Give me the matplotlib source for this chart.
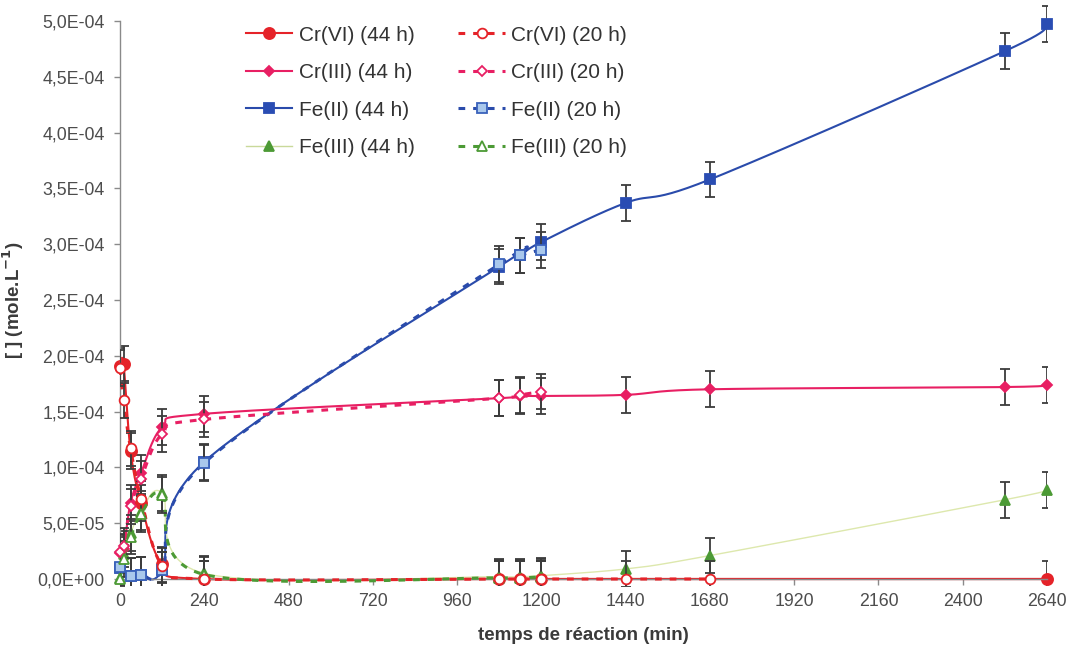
import numpy as np
import matplotlib
matplotlib.use('Agg')
import matplotlib.pyplot as plt
from matplotlib.lines import Line2D
from matplotlib.patches import Rectangle
from matplotlib.ticker import FuncFormatter, MultipleLocator

plt.rcParams['font.family'] = ['Liberation Sans', 'DejaVu Sans']

# ---------------- data ----------------
t_cr6_44 = [0, 10, 30, 60, 120, 240, 1080, 1140, 1200, 2640]
cr6_44 = [1.91e-4, 1.93e-4, 1.15e-4, 6.8e-5, 1.3e-5, 0, 0, 0, 0, 0]
t_cr6_20 = [0, 10, 30, 60, 120, 240, 1080, 1140, 1200, 1440, 1680]
cr6_20 = [1.89e-4, 1.60e-4, 1.17e-4, 7.2e-5, 1.2e-5, 0, 0, 0, 0, 0, 0]

t_44 = [0, 10, 30, 60, 120, 240, 1080, 1140, 1200, 1440, 1680, 2520, 2640]
t_20 = [0, 10, 30, 60, 120, 240, 1080, 1140, 1200]
cr3_44 = [2.3e-5, 2.7e-5, 6.8e-5, 9.5e-5, 1.36e-4, 1.48e-4, 1.62e-4, 1.64e-4,
          1.64e-4, 1.65e-4, 1.70e-4, 1.72e-4, 1.74e-4]
cr3_20 = [2.4e-5, 3.0e-5, 6.5e-5, 9.0e-5, 1.30e-4, 1.43e-4, 1.62e-4, 1.65e-4, 1.68e-4]

t_fe2_44 = [0, 30, 60, 120, 240, 1080, 1140, 1200, 1440, 1680, 2520, 2640]
fe2_44 = [1.0e-5, 3e-6, 4e-6, 8e-6, 1.05e-4, 2.80e-4, 2.90e-4, 3.02e-4,
          3.37e-4, 3.58e-4, 4.73e-4, 4.97e-4]
t_fe2_20 = [0, 30, 60, 120, 240, 1080, 1140, 1200]
fe2_20 = [1.1e-5, 3e-6, 4e-6, 8e-6, 1.04e-4, 2.82e-4, 2.90e-4, 2.95e-4]

fe3_44 = [1e-6, 2.2e-5, 4.1e-5, 6.0e-5, 7.7e-5, 5e-6, 2e-6, 2e-6, 3e-6,
          9e-6, 2.1e-5, 7.1e-5, 8.0e-5]
fe3_20 = [0, 1.8e-5, 3.8e-5, 5.8e-5, 7.5e-5, 4e-6, 1e-6, 1e-6, 2e-6]

err = 1.6e-5

x_ticks = [0, 240, 480, 720, 960, 1200, 1440, 1680, 1920, 2160, 2400, 2640]

# ---------------- figure ----------------
W, H = 1073, 649
fig = plt.figure(figsize=(W / 100, H / 100), dpi=100)
ax = fig.add_axes([120 / W, 1 - 579 / H, (1047 - 120) / W, (579 - 21) / H])
ax.set_xlim(0, 2640)
ax.set_ylim(0, 5e-4)

PX = (1047 - 120) / 2640.0
PY = (579 - 21) / 5e-4


def smooth(x, y, n=30):
    """Excel-like smoothed line (Catmull-Rom Bezier in display space)."""
    P = np.column_stack([np.asarray(x, float) * PX, np.asarray(y, float) * PY])
    out = [P[0]]
    s = np.linspace(0, 1, n)[1:, None]
    for i in range(len(P) - 1):
        p0 = P[i - 1] if i > 0 else P[i]
        p1, p2 = P[i], P[i + 1]
        p3 = P[i + 2] if i + 2 < len(P) else P[i + 1]
        c1 = p1 + (p2 - p0) / 6
        c2 = p2 - (p3 - p1) / 6
        B = (1 - s) ** 3 * p1 + 3 * (1 - s) ** 2 * s * c1 + 3 * (1 - s) * s ** 2 * c2 + s ** 3 * p2
        out.extend(B)
    out = np.array(out)
    return out[:, 0] / PX, out[:, 1] / PY


clip = Rectangle((0, -0.013), 1, 1.2, transform=ax.transAxes)

red = '#e52329'
pink = '#e81f63'
blue = '#2a4bab'
green = '#4c9a35'
pale = '#dde8ad'
ecol = '#3c3c3c'
dash = (0, (2.2, 2.6))


def draw(t, v, color, lw, ls, marker, ms, mfc, mec, z):
    xs, ys = smooth(t, v)
    ax.plot(xs, ys, color=color, lw=lw, ls=ls, zorder=z, clip_on=False,
            solid_capstyle='butt', dash_capstyle='butt')
    eb = ax.errorbar(t, v, yerr=err, fmt='none', ecolor=ecol, elinewidth=1.3,
                     capsize=3.5, capthick=1.3, zorder=z + 0.1)
    for a in list(eb.lines[1]) + list(eb.lines[2]):
        a.set_clip_path(clip)
    ax.plot(t, v, ls='none', marker=marker, ms=ms, mfc=mfc, mec=mec, mew=1.3,
            zorder=z + 0.2, clip_on=False)


# 44 h series
draw(t_fe2_44, fe2_44, blue, 1.5, '-', 's', 7.5, '#2a4db3', '#2a4db3', 2)
draw(t_44, cr3_44, pink, 1.5, '-', 'D', 5.5, pink, pink, 2)
draw(t_44, fe3_44, pale, 1.0, '-', '^', 7.5, green, green, 2)
draw(t_cr6_44, cr6_44, red, 1.5, '-', 'o', 8, red, red, 2)
# 20 h series
draw(t_fe2_20, fe2_20, blue, 2.2, dash, 's', 7, '#a9c8ec', '#3a62bb', 3)
draw(t_20, cr3_20, pink, 2.2, dash, 'D', 5, 'white', pink, 3)
draw(t_20, fe3_20, green, 2.2, dash, '^', 7, 'white', green, 3)
draw(t_cr6_20, cr6_20, red, 2.2, dash, 'o', 7, 'white', red, 3)

# ---------------- axes styling ----------------
for sp in ['top', 'right']:
    ax.spines[sp].set_visible(False)
for sp in ['left', 'bottom']:
    ax.spines[sp].set_color('#8a8a8a')
    ax.spines[sp].set_linewidth(1.0)

ax.set_xticks(x_ticks)
ax.yaxis.set_major_locator(MultipleLocator(5e-5))
ax.yaxis.set_major_formatter(FuncFormatter(lambda v, p: f"{v:.1E}".replace('.', ',')))
ax.tick_params(axis='both', direction='out', length=4, width=1, color='#8a8a8a',
               labelsize=12.8, labelcolor='#4d4d4d')
ax.tick_params(axis='y', pad=7)
ax.tick_params(axis='x', pad=6)

ax.set_xlabel('temps de réaction (min)', fontsize=13.5, fontweight='bold',
              color='#3a3a3a', labelpad=12)
ax.set_ylabel(r'[ ] (mole.L$^{\mathbf{-1}}$)', fontsize=13.5, fontweight='bold',
              color='#3a3a3a', labelpad=8)

# ---------------- legend ----------------
def h(color, lw, ls, marker, ms, mfc, mec):
    return Line2D([], [], color=color, lw=lw, ls=ls, marker=marker, ms=ms,
                  mfc=mfc, mec=mec, mew=1.3)

handles = [
    h(red, 1.5, '-', 'o', 8, red, red),
    h(pink, 1.5, '-', 'D', 5.5, pink, pink),
    h(blue, 1.5, '-', 's', 7.5, '#2a4db3', '#2a4db3'),
    h('#c9d99a', 1.0, '-', '^', 7.5, green, green),
    h(red, 2.2, dash, 'o', 7, 'white', red),
    h(pink, 2.2, dash, 'D', 5, 'white', pink),
    h(blue, 2.2, dash, 's', 7, '#a9c8ec', '#3a62bb'),
    h(green, 2.2, dash, '^', 7, 'white', green),
]
labels = ['Cr(VI) (44 h)', 'Cr(III) (44 h)', 'Fe(II) (44 h)', 'Fe(III) (44 h)',
          'Cr(VI) (20 h)', 'Cr(III) (20 h)', 'Fe(II) (20 h)', 'Fe(III) (20 h)']
leg = fig.legend(handles, labels, ncol=2, loc='upper left',
                 bbox_to_anchor=(231 / W, 1 - 11 / H), frameon=False,
                 fontsize=15, handlelength=2.25, handletextpad=0.3,
                 columnspacing=2.1, labelspacing=0.89, borderpad=0.2)
for t in leg.get_texts():
    t.set_color('#333333')

fig.savefig('out.png', dpi=100, facecolor='white')
